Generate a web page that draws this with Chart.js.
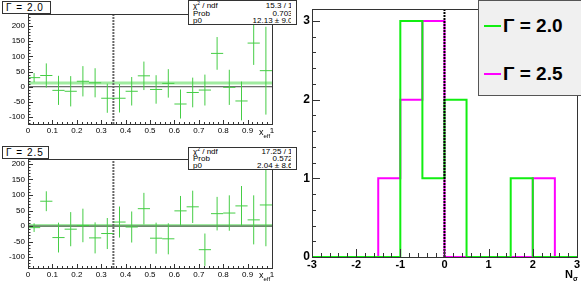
<!DOCTYPE html>
<html>
<head>
<meta charset="utf-8">
<script src="https://cdn.jsdelivr.net/npm/chart.js@4.4.0/dist/chart.umd.min.js"></script>
<style>
  body { margin: 0; background: #fff; width: 581px; height: 283px; overflow: hidden; position: relative;
         font-family: "Liberation Sans", Arial, sans-serif; }
  canvas { position: absolute; }
  .tag { position: absolute; border: 1px solid #333; background: #fff; font-size: 10px; letter-spacing: 1px;
         line-height: 11px; padding-left: 3px; box-sizing: border-box; }
  .stats { position: absolute; border: 1px solid #333; background: #fff; box-sizing: border-box; overflow: hidden; }
  .stats .in { position: absolute; left: 0; top: 0; width: 102px; height: 100%; overflow: hidden; }
  .stats .row { position: absolute; left: 4px; width: 104px; height: 8px; font-size: 8px; line-height: 8px; white-space: nowrap; }
  .stats .row b { font-weight: normal; position: absolute; right: 0; top: 0; }
  .stats .row i { font-style: normal; font-size: 5px; position: relative; top: -3px; }
  .ax { position: absolute; font-size: 9px; }
  .ax sub { font-size: 6px; }
  .legend { position: absolute; left: 478px; top: 0; width: 110px; height: 96px; background: #f0f0f0;
            border: 1px solid #555; box-sizing: border-box; }
  .legend .ln { position: absolute; left: 5px; width: 17px; height: 2px; }
  .legend .tx { position: absolute; left: 24px; font-size: 19px; font-weight: bold; line-height: 20px; }
</style>
</head>
<body>
<canvas id="g20" width="290" height="140" style="left:0;top:0"></canvas>
<canvas id="g25" width="290" height="143" style="left:0;top:140px"></canvas>
<canvas id="nsig" width="291" height="283" style="left:290px;top:0"></canvas>

<div class="tag" style="left:2px;top:1px;width:49px;height:13px">&Gamma; = 2.0</div>
<div class="tag" style="left:2px;top:146px;width:47px;height:13px">&Gamma; = 2.5</div>

<div class="stats" style="left:188px;top:0;width:109px;height:25px">
  <div class="in">
    <div class="row" style="top:1px">&chi;<i>2</i> / ndf<b>15.3 / 19</b></div>
    <div class="row" style="top:9px">Prob<b>0.7031</b></div>
    <div class="row" style="top:16px">p0<b>12.13 &plusmn; 9.03</b></div>
  </div>
</div>
<div class="stats" style="left:188px;top:147px;width:109px;height:23px">
  <div class="in">
    <div class="row" style="top:0px">&chi;<i>2</i> / ndf<b>17.25 / 19</b></div>
    <div class="row" style="top:7px">Prob<b>0.5729</b></div>
    <div class="row" style="top:14px">p0<b>2.04 &plusmn; 8.62</b></div>
  </div>
</div>

<div class="ax" style="left:259px;top:127px">x<sub>eff</sub></div>
<div class="ax" style="left:259px;top:270px">x<sub>eff</sub></div>
<div class="ax" style="left:565px;top:268px;font-size:11px;font-weight:bold">N<sub style="font-size:7px">&sigma;</sub></div>

<div class="legend">
  <div class="ln" style="top:24px;background:#11ee11"></div>
  <div class="tx" style="top:15px">&Gamma; = 2.0</div>
  <div class="ln" style="top:72px;background:#ff00ff"></div>
  <div class="tx" style="top:63px">&Gamma; = 2.5</div>
</div>

<script>
Chart.defaults.font.family = '"Liberation Sans", Arial, sans-serif';

// bin centres in x_eff (bin width 0.05)
var binX = [0.025, 0.075, 0.125, 0.175, 0.225, 0.275, 0.325, 0.375, 0.425, 0.475,
            0.525, 0.575, 0.625, 0.675, 0.725, 0.775, 0.825, 0.875, 0.925, 0.975];

// Gamma = 2.0
var g20Y   = [30, 37, -12, -15, 18, 13, -38, -38, -15, 36, -9, 11, -57, -19, -11, 110, -2, -47, 144, 53];
var g20Err = [15, 40, 48, 50, 50, 48, 48, 47, 47, 47, 47, 47, 48, 49, 51, 54, 58, 64, 72, 145];
var g20Fit = 12.13;

// Gamma = 2.5
var g25Y   = [-5, 80, -37, -10, 2, -38, -24, 13, -3, 56, -39, -41, 49, 62, -76, 40, 42, 65, 20, 68];
var g25Err = [14, 32, 48, 55, 54, 50, 50, 50, 50, 51, 50, 50, 48, 52, 52, 54, 57, 64, 79, 133];
var g25Fit = 2.04;

var cutX = 0.35;
var fitTicks = [-100, -50, 0, 50, 100, 150, 200];

// N_sigma histograms, bin lower edges (width 0.5)
var nsEdges   = [-3, -2.5, -2, -1.5, -1, -0.5, 0, 0.5, 1, 1.5, 2, 2.5];
var nsTop     = 3;
var ns20Count = [0, 0, 0, 0, 3, 1, 2, 0, 0, 1, 0, 0];
var ns25Count = [0, 0, 0, 1, 2, 3, 0, 0, 0, 0, 1, 0];

// frame + inward ROOT style ticks
var innerTicks = {
  id: 'innerTicks',
  afterDatasetsDraw: function (chart, args, opts) {
    var ctx = chart.ctx, a = chart.chartArea;
    ctx.save();
    ctx.strokeStyle = '#333';
    ctx.lineWidth = 1;
    ctx.strokeRect(Math.round(a.left) + 0.5, Math.round(a.top) + 0.5,
                   Math.round(a.right - a.left), Math.round(a.bottom - a.top));
    ['x', 'y'].forEach(function (id) {
      var s = chart.scales[id], t = opts[id];
      var v0 = Math.ceil(s.min / t.minor - 1e-6);
      var v1 = Math.floor(s.max / t.minor + 1e-6);
      for (var i = v0; i <= v1; i++) {
        var v = i * t.minor;
        var r = v / t.major;
        var len = Math.abs(r - Math.round(r)) < 1e-6 ? t.majLen : t.minLen;
        var p = Math.round(s.getPixelForValue(v)) + 0.5;
        ctx.beginPath();
        if (id === 'x') { ctx.moveTo(p, a.bottom); ctx.lineTo(p, a.bottom - len); }
        else { ctx.moveTo(a.left, p); ctx.lineTo(a.left + len, p); }
        ctx.stroke();
      }
    });
    ctx.restore();
  }
};

function crosses(xs, ys, es) {
  var hw = (xs[1] - xs[0]) / 2, pts = [];
  for (var i = 0; i < xs.length; i++) {
    pts.push({x: xs[i] - hw, y: ys[i]}, {x: xs[i] + hw, y: ys[i]}, {x: xs[i], y: null});
    pts.push({x: xs[i], y: ys[i] - es[i]}, {x: xs[i], y: ys[i] + es[i]}, {x: xs[i], y: null});
  }
  return pts;
}

function steps(edges, counts, top) {
  var pts = edges.map(function (e, i) { return {x: e, y: counts[i]}; });
  pts.push({x: top, y: counts[counts.length - 1]});
  return pts;
}

function fitPanel(id, ys, es, fit, yMin, yMax, padTop, xH) {
  return new Chart(document.getElementById(id), {
    type: 'scatter',
    data: {
      datasets: [{
        data: crosses(binX, ys, es), showLine: true, spanGaps: false,
        borderColor: 'rgb(70,205,70)', borderWidth: 1, pointRadius: 0
      }, {
        data: [{x: cutX, y: yMin}, {x: cutX, y: yMax}], showLine: true,
        borderColor: '#666', borderWidth: 2, borderDash: [2, 1], pointRadius: 0
      }, {
        data: [{x: 0, y: 0}, {x: 1, y: 0}], showLine: true,
        borderColor: '#444', borderWidth: 1, pointRadius: 0
      }, {
        data: [{x: 0, y: fit}, {x: 1, y: fit}], showLine: true,
        borderColor: 'rgb(160,235,160)', borderWidth: 3, pointRadius: 0
      }]
    },
    options: {
      responsive: false, animation: false, events: [],
      layout: {padding: {top: padTop, right: 18, left: 0, bottom: 0}},
      plugins: {
        legend: {display: false}, tooltip: {enabled: false},
        innerTicks: {
          x: {major: 0.1, minor: 0.02, majLen: 4, minLen: 2},
          y: {major: 50, minor: 10, majLen: 5, minLen: 2.5}
        }
      },
      scales: {
        x: {
          type: 'linear', min: 0, max: 1,
          afterFit: function (s) { s.height = xH; },
          grid: {display: false, drawTicks: false}, border: {display: false},
          ticks: {stepSize: 0.1, autoSkip: false, maxRotation: 0, padding: 2, color: '#000',
                  font: {size: 8}, includeBounds: false,
                  callback: function (v) { return String(Math.round(v * 10) / 10); }}
        },
        y: {
          min: yMin, max: yMax,
          afterFit: function (s) { s.width = 28; },
          afterBuildTicks: function (s) { s.ticks = fitTicks.map(function (v) { return {value: v}; }); },
          grid: {display: false, drawTicks: false}, border: {display: false},
          ticks: {autoSkip: false, padding: 3, color: '#000', font: {size: 8}}
        }
      }
    },
    plugins: [innerTicks]
  });
}

fitPanel('g20', g20Y, g20Err, g20Fit, -123, 240, 14, 16);
fitPanel('g25', g25Y, g25Err, g25Fit, -135, 216, 19, 15);

new Chart(document.getElementById('nsig'), {
  type: 'line',
  data: {
    datasets: [{
      data: [{x: 0, y: 0}, {x: 0, y: 3.15}],
      borderColor: '#000', borderWidth: 2, borderDash: [2, 1], pointRadius: 0
    }, {
      label: '\u0393 = 2.0', data: steps(nsEdges, ns20Count, nsTop), stepped: 'before',
      borderColor: '#11ee11', borderWidth: 2, pointRadius: 0, clip: false
    }, {
      label: '\u0393 = 2.5', data: steps(nsEdges, ns25Count, nsTop), stepped: 'before',
      borderColor: '#ff00ff', borderWidth: 2, pointRadius: 0, clip: false
    }]
  },
  options: {
    responsive: false, animation: false, events: [],
    layout: {padding: {top: 1, right: 3, left: 0, bottom: 0}},
    plugins: {
      legend: {display: false}, tooltip: {enabled: false},
      innerTicks: {
        x: {major: 1, minor: 0.2, majLen: 8, minLen: 4},
        y: {major: 1, minor: 0.2, majLen: 8, minLen: 4}
      }
    },
    scales: {
      x: {
        type: 'linear', min: -3, max: 3,
        afterFit: function (s) { s.height = 26; },
        grid: {display: false, drawTicks: false}, border: {display: false},
        ticks: {stepSize: 1, autoSkip: false, maxRotation: 0, padding: 1, color: '#000',
                font: {size: 11, weight: 'bold'}}
      },
      y: {
        min: 0, max: 3.15,
        afterFit: function (s) { s.width = 22; },
        grid: {display: false, drawTicks: false}, border: {display: false},
        ticks: {stepSize: 1, autoSkip: false, padding: 2, color: '#000',
                font: {size: 12, weight: 'bold'}, includeBounds: false}
      }
    }
  },
  plugins: [innerTicks]
});
</script>
</body>
</html>
